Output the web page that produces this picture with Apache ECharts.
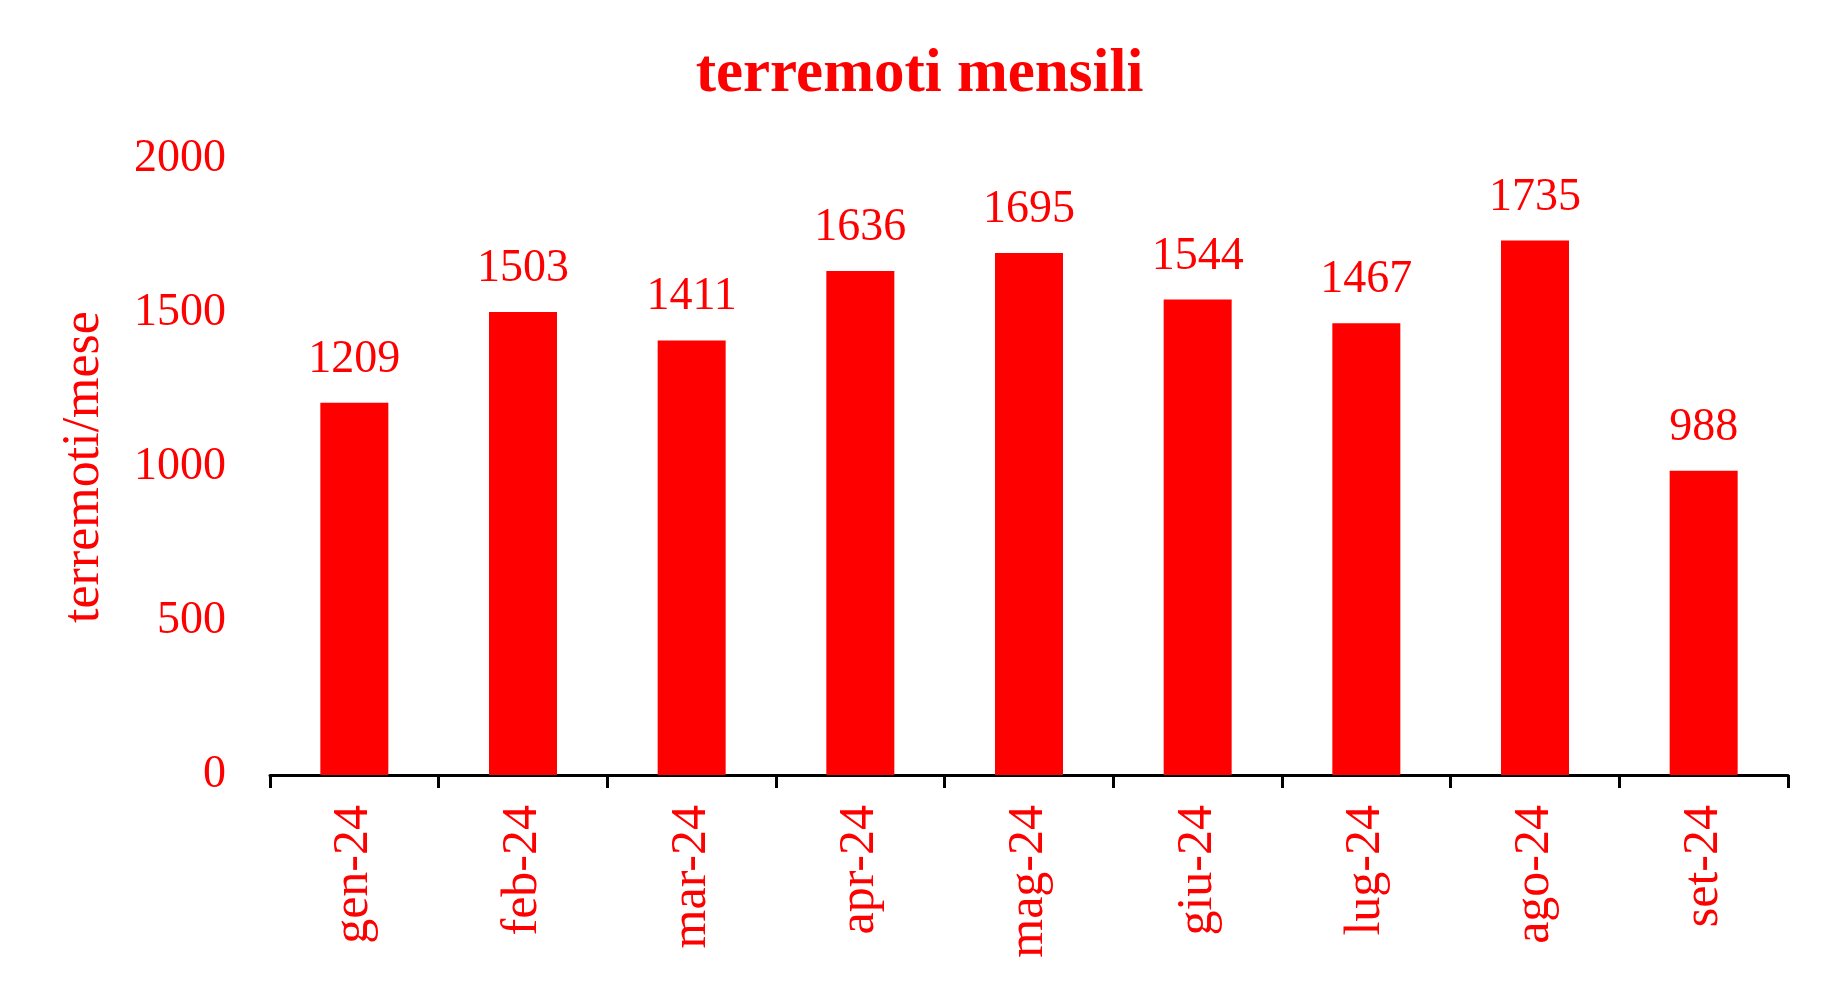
<!DOCTYPE html>
<html>
<head>
<meta charset="utf-8">
<script src="https://cdn.jsdelivr.net/npm/echarts@6/dist/echarts.min.js"></script>
<style>
html,body{margin:0;padding:0;background:#fff;}
#c{width:1839px;height:990px;}
</style>
</head>
<body>
<div id="c"></div>
<script>
var categories = ['gen-24','feb-24','mar-24','apr-24','mag-24','giu-24','lug-24','ago-24','set-24'];
var values = [1209,1503,1411,1636,1695,1544,1467,1735,988];
var yTicks = [0,500,1000,1500,2000];

var FONT = '"Liberation Serif", "Times New Roman", serif';
var chart = echarts.init(document.getElementById('c'), null, {renderer:'canvas'});
chart.setOption({
  backgroundColor:'#ffffff',
  animation:false,
  title:{
    text:'terremoti mensili',
    left:'center',
    top:40,
    textStyle:{color:'#ff0000', fontFamily:FONT, fontWeight:'bold', fontSize:61}
  },
  grid:{left:270, right:51, top:159, bottom:215, containLabel:false},
  xAxis:{
    type:'category',
    data:categories,
    boundaryGap:true,
    axisLine:{show:true, lineStyle:{color:'#000', width:3}},
    axisTick:{show:true, inside:false, length:13, lineStyle:{color:'#000', width:3}},
    axisLabel:{rotate:90, margin:30, color:'#ff0000', fontFamily:FONT, fontSize:50}
  },
  yAxis:{
    type:'value',
    min:yTicks[0], max:yTicks[yTicks.length-1], interval:500,
    name:'terremoti/mese',
    nameLocation:'middle',
    nameRotate:90,
    nameGap:160,
    nameTextStyle:{color:'#ff0000', fontFamily:FONT, fontSize:52},
    axisLine:{show:false},
    axisTick:{show:false},
    splitLine:{show:false},
    axisLabel:{margin:44, color:'#ff0000', fontFamily:FONT, fontSize:46,
      padding:[9,0,0,0],
      formatter:function(v){ return String(v); }}
  },
  series:[{
    type:'bar',
    data:values,
    barWidth:68,
    itemStyle:{color:'#ff0000'},
    label:{show:true, position:'top', distance:20, color:'#ff0000', fontFamily:FONT, fontSize:46}
  }]
});
</script>
</body>
</html>
